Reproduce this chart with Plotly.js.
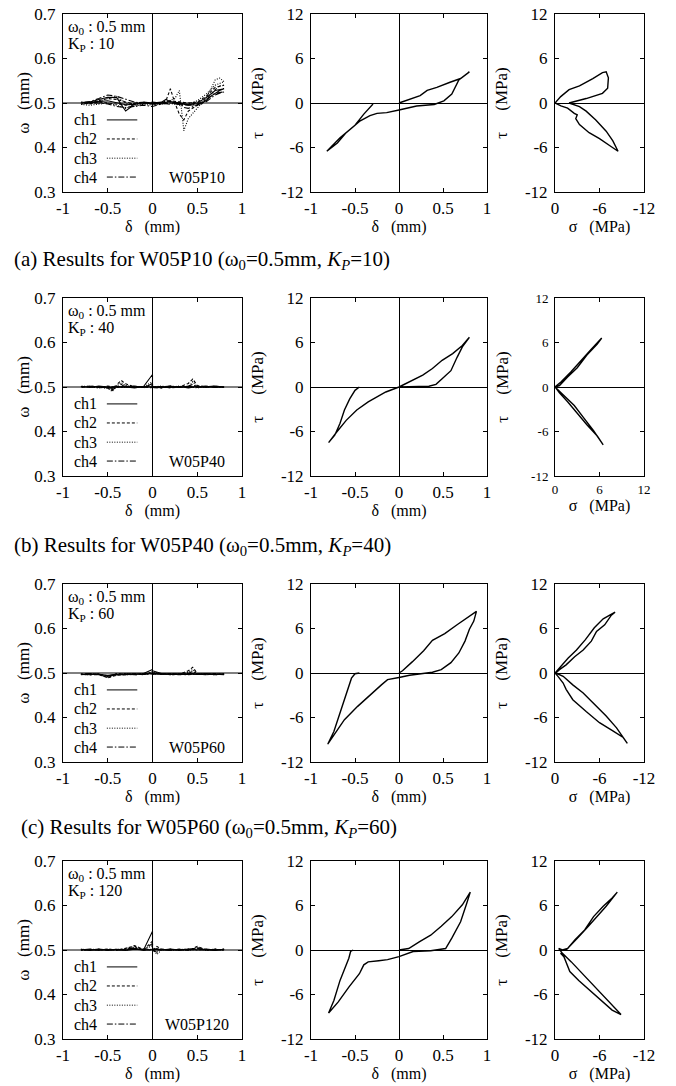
<!DOCTYPE html>
<html><head><meta charset="utf-8">
<script src="https://cdn.plot.ly/plotly-3.0.1.min.js"></script>
<style>html,body{margin:0;padding:0;background:#fff}</style>
</head><body><div id="chart" style="width:676px;height:1086px"></div>
<script>
// ---------- labels ----------
const specimens = ['W05P10','W05P40','W05P60','W05P120'];
const kpValues = [10,40,60,120];
const captionLetters = ['(a)','(b)','(c)'];
const channelNames = ['ch1','ch2','ch3','ch4'];
const deltaTicks = [-1,-0.5,0,0.5,1];
const deltaTickText = ['-1','-0.5','0','0.5','1'];
const omegaTicks = [0.3,0.4,0.5,0.6,0.7];
const omegaTickText = ['0.3','0.4','0.5','0.6','0.7'];
const tauTicks = [-12,-6,0,6,12];
const tauTickText = ['-12','-6','0','6','12'];
const sigmaTicksNeg = [0,-6,-12];
const sigmaTickTextNeg = ['0','-6','-12'];
const sigmaTicksPos = [0,6,12];
const sigmaTickTextPos = ['0','6','12'];

// ---------- row 1 : W05P10 ----------
const delta1 = [0,0.1,0.15,0.2,0.25,0.3,0.35,0.4,0.5,0.55,0.6,0.65,0.7,0.75,0.8,
  0.7,0.6,0.5,0.4,0.3,0.2,0.1,0,-0.1,-0.2,-0.3,-0.4,-0.5,-0.6,-0.7,-0.8,
  -0.7,-0.6,-0.5,-0.4,-0.3,-0.2,-0.1,0];
const omega1ch1 = [0.500,0.502,0.508,0.503,0.500,0.497,0.498,0.495,0.496,0.500,0.505,0.515,0.522,0.528,0.532,
  0.528,0.512,0.500,0.497,0.500,0.503,0.500,0.498,0.500,0.497,0.496,0.500,0.505,0.503,0.500,0.500,
  0.502,0.508,0.513,0.512,0.482,0.497,0.502,0.500];
const omega1ch2 = [0.498,0.500,0.505,0.532,0.500,0.475,0.462,0.482,0.495,0.498,0.508,0.520,0.530,0.538,0.540,
  0.535,0.515,0.502,0.500,0.503,0.505,0.498,0.497,0.502,0.500,0.495,0.498,0.500,0.502,0.498,0.500,
  0.500,0.505,0.510,0.508,0.502,0.498,0.500,0.498];
const omega1ch3 = [0.500,0.498,0.502,0.506,0.510,0.528,0.438,0.465,0.490,0.500,0.512,0.530,0.552,0.556,0.548,
  0.540,0.520,0.505,0.498,0.495,0.500,0.497,0.495,0.497,0.495,0.488,0.495,0.500,0.498,0.495,0.497,
  0.500,0.504,0.510,0.515,0.500,0.492,0.498,0.500];
const omega1ch4 = [0.502,0.500,0.498,0.497,0.500,0.502,0.490,0.488,0.495,0.500,0.503,0.510,0.518,0.522,0.525,
  0.522,0.508,0.498,0.495,0.497,0.500,0.498,0.492,0.495,0.493,0.490,0.492,0.498,0.500,0.500,0.502,
  0.503,0.510,0.518,0.515,0.508,0.502,0.500,0.502];
const loopDelta1 = [0,0.13,0.24,0.32,0.43,0.58,0.70,0.80,
  0.68,0.60,0.51,0.40,0.20,0,-0.14,-0.25,-0.33,-0.44,-0.55,-0.67,-0.82,
  -0.70,-0.60,-0.50,-0.40,-0.35,-0.30,-0.30];
const loopTau1 = [0,0.5,1.0,1.7,2.1,2.8,3.3,4.2,
  3.1,1.2,0.3,-0.2,-0.4,-0.95,-1.3,-1.4,-1.7,-2.4,-3.5,-4.7,-6.5,
  -5.4,-4.0,-3.0,-1.5,-0.8,-0.2,0];
const sigma1 = [0,-0.77,-1.9,-3.3,-5.1,-6.4,-6.9,-7.2,-7.1,-6.4,-4.2,-2.8,-1.9,
  -3.3,-4.2,-5.5,-6.9,-7.8,-8.5,
  -7.6,-6.0,-4.6,-3.3,-2.8,-3.0,-2.6,-1.7,-0.8,0];
const sigTau1 = [0,0.86,1.8,2.3,3.3,4.1,4.2,3.4,2.0,1.3,0.6,0.2,0,
  -0.5,-1.1,-2.3,-3.8,-5.1,-6.5,
  -5.9,-4.8,-4.0,-2.9,-2.1,-1.6,-1.4,-0.7,-0.4,0];

// ---------- row 2 : W05P40 ----------
const delta2 = [0,0.1,0.2,0.3,0.4,0.45,0.5,0.6,0.7,0.8,
  0.7,0.6,0.5,0.4,0.3,0.2,0.1,0,-0.1,-0.2,-0.3,-0.35,-0.4,-0.45,-0.5,-0.6,-0.7,-0.8,
  -0.7,-0.6,-0.5,-0.4,-0.3,-0.2,-0.1,0,0];
const omega2ch1 = [0.501,0.499,0.502,0.499,0.501,0.500,0.502,0.499,0.501,0.500,
  0.502,0.499,0.501,0.498,0.501,0.499,0.501,0.500,0.501,0.498,0.500,0.499,0.501,0.497,0.500,0.502,0.499,0.501,
  0.499,0.501,0.498,0.500,0.502,0.499,0.501,0.528,0.500];
const omega2ch2 = [0.499,0.501,0.498,0.500,0.508,0.518,0.503,0.501,0.499,0.501,
  0.499,0.502,0.500,0.502,0.499,0.501,0.498,0.499,0.501,0.500,0.507,0.515,0.505,0.492,0.498,0.500,0.502,0.499,
  0.501,0.499,0.502,0.499,0.501,0.500,0.499,0.505,0.500];
const omega2ch3 = [0.500,0.502,0.499,0.501,0.499,0.512,0.500,0.502,0.500,0.499,
  0.501,0.500,0.498,0.500,0.502,0.500,0.499,0.501,0.499,0.501,0.503,0.510,0.502,0.490,0.497,0.499,0.500,0.502,
  0.500,0.498,0.500,0.502,0.499,0.501,0.500,0.512,0.500];
const omega2ch4 = [0.500,0.498,0.501,0.500,0.502,0.506,0.499,0.500,0.502,0.499,
  0.500,0.501,0.499,0.501,0.500,0.502,0.500,0.498,0.500,0.502,0.499,0.506,0.499,0.494,0.501,0.498,0.501,0.500,
  0.502,0.500,0.499,0.501,0.500,0.502,0.498,0.508,0.500];
const loopDelta2 = [0,0.12,0.27,0.38,0.49,0.61,0.72,0.80,
  0.72,0.66,0.59,0.49,0.42,0.34,0.15,0,-0.15,-0.26,-0.35,-0.48,-0.60,-0.71,-0.80,
  -0.73,-0.67,-0.62,-0.56,-0.50,-0.45];
const loopTau2 = [0,0.67,1.6,2.5,3.6,4.5,5.6,6.7,
  5.4,4.0,2.2,1.1,0.36,0.1,0,0,-0.67,-1.35,-2.0,-3.1,-4.5,-6.1,-7.5,
  -6.5,-4.9,-3.1,-1.6,-0.45,0];
const sigma2 = [0,0.8,2.1,3.5,4.8,6.3,5.7,4.3,3.0,1.7,0.6,0,
  1.2,2.6,3.9,5.2,6.5,5.7,4.3,3.0,1.7,0.6,0.1];
const sigTau2 = [0,0.67,2.0,3.6,5.0,6.6,5.8,4.3,2.6,1.35,0.2,0,
  -1.2,-2.5,-4.2,-5.9,-7.8,-6.6,-5.1,-3.5,-2.0,-0.8,-0.1];

// ---------- row 3 : W05P60 ----------
const delta3 = [0,0.1,0.2,0.3,0.4,0.45,0.5,0.6,0.7,0.8,
  0.7,0.6,0.5,0.4,0.3,0.2,0.1,0,-0.1,-0.2,-0.3,-0.4,-0.5,-0.6,-0.7,-0.8,
  -0.7,-0.6,-0.5,-0.4,-0.3,-0.2,-0.1,0];
const omega3ch1 = [0.505,0.499,0.497,0.498,0.497,0.499,0.497,0.498,0.496,0.498,
  0.497,0.499,0.497,0.498,0.496,0.498,0.497,0.499,0.497,0.498,0.496,0.497,0.495,0.497,0.498,0.496,
  0.498,0.497,0.494,0.496,0.498,0.497,0.499,0.508];
const omega3ch2 = [0.500,0.498,0.499,0.497,0.505,0.513,0.499,0.497,0.498,0.497,
  0.499,0.497,0.498,0.496,0.498,0.499,0.497,0.501,0.498,0.496,0.497,0.499,0.490,0.496,0.497,0.498,
  0.496,0.497,0.489,0.495,0.497,0.498,0.497,0.500];
const omega3ch3 = [0.498,0.497,0.499,0.496,0.502,0.508,0.497,0.499,0.497,0.498,
  0.496,0.498,0.499,0.497,0.499,0.497,0.498,0.503,0.496,0.498,0.499,0.496,0.492,0.498,0.496,0.497,
  0.498,0.496,0.491,0.497,0.496,0.498,0.498,0.499];
const omega3ch4 = [0.497,0.499,0.496,0.498,0.499,0.504,0.498,0.496,0.498,0.496,
  0.498,0.496,0.497,0.499,0.497,0.496,0.499,0.498,0.499,0.497,0.496,0.498,0.493,0.497,0.499,0.497,
  0.496,0.498,0.493,0.496,0.499,0.496,0.497,0.498];
const loopDelta3 = [0,0.04,0.15,0.28,0.38,0.52,0.66,0.80,0.88,
  0.85,0.80,0.75,0.68,0.59,0.48,0.38,0.25,0.12,0,-0.13,-0.20,-0.32,-0.47,-0.62,-0.74,-0.81,
  -0.74,-0.69,-0.64,-0.59,-0.54,-0.50,-0.45];
const loopTau3 = [0,0.3,1.5,3.0,4.4,5.3,6.5,7.6,8.3,
  7.0,5.9,4.3,2.7,1.4,0.45,0.1,-0.1,-0.3,-0.6,-0.9,-1.6,-2.9,-4.5,-6.3,-8.4,-9.6,
  -7.9,-6.1,-4.3,-2.5,-0.7,-0.1,0];
const sigma3 = [0,-0.6,-1.75,-2.9,-4.1,-5.3,-6.5,-8.1,
  -7.6,-6.7,-5.6,-4.9,-4.4,-3.8,-2.65,-1.5,-0.6,-0.1,
  -1.1,-2.4,-3.8,-5.6,-6.9,-8.3,-9.75,
  -9.2,-7.8,-6.0,-4.2,-2.4,-1.5,-1.1,-0.4,0];
const sigTau3 = [0,0.7,2.0,3.1,4.5,6.1,7.3,8.2,
  7.8,6.5,5.6,4.3,3.8,3.1,2.2,1.1,0.45,0,
  -0.45,-1.6,-2.7,-4.5,-5.8,-7.4,-9.5,
  -8.7,-7.8,-6.7,-5.2,-3.6,-2.2,-1.35,-0.45,0];

// ---------- row 4 : W05P120 ----------
const delta4 = [0,0.05,0.1,0.2,0.3,0.4,0.5,0.6,0.7,0.8,
  0.7,0.6,0.5,0.4,0.3,0.2,0.1,0,-0.1,-0.2,-0.3,-0.4,-0.5,-0.6,-0.7,-0.8,
  -0.7,-0.6,-0.5,-0.4,-0.3,-0.2,-0.1,0,0];
const omega4ch1 = [0.501,0.503,0.500,0.502,0.500,0.502,0.500,0.501,0.499,0.501,
  0.500,0.502,0.500,0.501,0.499,0.502,0.500,0.501,0.500,0.502,0.499,0.501,0.500,0.502,0.499,0.501,
  0.500,0.502,0.499,0.501,0.500,0.502,0.500,0.542,0.501];
const omega4ch2 = [0.500,0.508,0.502,0.500,0.502,0.499,0.508,0.500,0.502,0.500,
  0.501,0.499,0.505,0.500,0.502,0.500,0.501,0.499,0.501,0.510,0.503,0.500,0.502,0.500,0.501,0.499,
  0.501,0.500,0.502,0.500,0.504,0.508,0.500,0.520,0.500];
const omega4ch3 = [0.502,0.490,0.500,0.501,0.499,0.501,0.505,0.499,0.501,0.499,
  0.502,0.500,0.502,0.499,0.501,0.500,0.502,0.500,0.502,0.505,0.500,0.502,0.499,0.501,0.500,0.502,
  0.499,0.501,0.500,0.502,0.499,0.503,0.501,0.510,0.501];
const omega4ch4 = [0.499,0.495,0.501,0.499,0.501,0.500,0.503,0.501,0.500,0.502,
  0.499,0.501,0.500,0.502,0.500,0.499,0.500,0.502,0.499,0.504,0.501,0.499,0.501,0.500,0.502,0.500,
  0.502,0.499,0.501,0.499,0.502,0.505,0.499,0.515,0.500];
const loopDelta4 = [0,0.11,0.23,0.36,0.48,0.60,0.72,0.81,
  0.77,0.70,0.60,0.53,0.36,0.16,0,-0.13,-0.23,-0.35,-0.40,-0.45,-0.57,-0.69,-0.80,
  -0.74,-0.67,-0.62,-0.57,-0.55,-0.52];
const loopTau4 = [0,0.2,1.1,2.0,3.2,4.5,6.1,7.8,
  6.3,3.8,1.6,0.2,-0.1,-0.2,-0.9,-1.3,-1.45,-1.6,-2.0,-3.2,-5.0,-7.0,-8.5,
  -6.8,-4.1,-2.7,-1.1,-0.2,0];
const sigma4 = [-1.5,-2.2,-3.2,-4.5,-5.7,-6.9,-8.4,
  -7.7,-6.5,-5.2,-4.0,-2.7,-1.7,-1.0,-0.5,-1.0,
  -2.2,-3.7,-5.2,-6.7,-8.2,-8.9,
  -7.7,-6.2,-4.7,-3.2,-2.0,-1.5,-1.2,-0.75,-1.0];
const sigTau4 = [0,0.7,1.8,3.2,4.5,5.9,7.8,
  7.0,5.9,4.5,2.7,1.4,0.2,0,0.2,-0.45,
  -1.6,-3.2,-4.75,-6.3,-7.9,-8.7,
  -8.1,-6.8,-5.4,-4.1,-2.9,-1.8,-0.9,-0.45,-0.45];

// ---------- assemble ----------
const rows = [
  {delta: delta1, omega: [omega1ch1,omega1ch2,omega1ch3,omega1ch4], ld: loopDelta1, lt: loopTau1, sg: sigma1, st: sigTau1, sigPos:false},
  {delta: delta2, omega: [omega2ch1,omega2ch2,omega2ch3,omega2ch4], ld: loopDelta2, lt: loopTau2, sg: sigma2, st: sigTau2, sigPos:true},
  {delta: delta3, omega: [omega3ch1,omega3ch2,omega3ch3,omega3ch4], ld: loopDelta3, lt: loopTau3, sg: sigma3, st: sigTau3, sigPos:false},
  {delta: delta4, omega: [omega4ch1,omega4ch2,omega4ch3,omega4ch4], ld: loopDelta4, lt: loopTau4, sg: sigma4, st: sigTau4, sigPos:false}
];

const W = 676, H = 1086;
const rowTops = [14, 298, 584, 861];
const rowH = 178;
const colX = [[63,242],[311,487],[555,644]];
const captionY = [260, 546, 828];
const captionX = [12, 12, 19];
const dashes = ['solid','3px,2px','1px,1.5px','6px,2px,1.5px,2px'];
const FONT = 'Liberation Serif, Times New Roman, serif';
const NB = '\u00a0';
const TICK = 17, TITLE = 16, NOTE = 16, CAP = 21;

const traces = [];
const layout = {
  width: W, height: H, margin: {l:0,r:0,t:0,b:0},
  paper_bgcolor: '#fff', plot_bgcolor: '#fff',
  showlegend: false, font: {family: FONT, color: '#000', size: TICK},
  shapes: [], annotations: []
};

function axName(k){ return k === 1 ? '' : String(k); }

function baseAxis(domain, range, tv, tt, zl, tsize){
  return {
    domain: domain, range: range, tickmode: 'array', tickvals: tv, ticktext: tt,
    ticks: 'inside', ticklen: 4, tickwidth: 1, tickcolor: '#000',
    showline: true, linecolor: '#000', linewidth: 1, mirror: 'ticks',
    showgrid: false, zeroline: zl, zerolinecolor: '#000', zerolinewidth: 1,
    tickfont: {family: FONT, size: tsize, color: '#000'},
    fixedrange: true
  };
}

rows.forEach((row, r) => {
  const yDom = [1 - (rowTops[r] + rowH) / H, 1 - rowTops[r] / H];
  for (let c = 0; c < 3; c++) {
    const k = 3*r + c + 1;
    const xs = 'x' + axName(k), ys = 'y' + axName(k);
    const xDom = [colX[c][0] / W, colX[c][1] / W];
    let xa, ya;
    if (c === 0) {
      xa = baseAxis(xDom, [-1,1], deltaTicks, deltaTickText, true, TICK);
      ya = baseAxis(yDom, [0.3,0.7], omegaTicks, omegaTickText, false, TICK);
      xa.title = {text: 'δ' + NB+NB+NB + '(mm)', font: {family: FONT, size: TITLE}, standoff: 0};
      ya.title = {text: 'ω' + NB+NB+NB + '(mm)', font: {family: FONT, size: 17}, standoff: 0};
      row.omega.forEach((w, ci) => {
        traces.push({x: row.delta, y: w, xaxis: xs, yaxis: ys, type: 'scatter', mode: 'lines',
          name: channelNames[ci], line: {color: '#000', width: 1.1, dash: dashes[ci]}, hoverinfo: 'skip'});
      });
      layout.shapes.push({type:'line', xref: xs + ' domain', yref: ys, x0:0, x1:1, y0:0.5, y1:0.5,
        line:{color:'#000', width:1}, layer:'below'});
      const legY = [0.405, 0.298, 0.19, 0.084];
      channelNames.forEach((nm, ci) => {
        layout.annotations.push({xref: xs + ' domain', yref: ys + ' domain', x: 0.05, y: legY[ci],
          xanchor: 'left', yanchor: 'middle', text: nm, showarrow: false, font: {family: FONT, size: NOTE, color:'#000'}});
        layout.shapes.push({type:'line', xref: xs + ' domain', yref: ys + ' domain', x0: 0.245, x1: 0.415,
          y0: legY[ci], y1: legY[ci], line: {color:'#000', width:1, dash: dashes[ci]}});
      });
      layout.annotations.push({xref: xs + ' domain', yref: ys + ' domain', x: 0.015, y: 0.922,
        xanchor:'left', yanchor:'middle', text: 'ω<sub>0</sub>' + NB + ': 0.5 mm', showarrow:false,
        font:{family: FONT, size: NOTE, color:'#000'}});
      layout.annotations.push({xref: xs + ' domain', yref: ys + ' domain', x: 0.015, y: 0.83,
        xanchor:'left', yanchor:'middle', text: 'K<sub>P</sub>' + NB + ': ' + kpValues[r], showarrow:false,
        font:{family: FONT, size: NOTE, color:'#000'}});
      layout.annotations.push({xref: xs + ' domain', yref: ys + ' domain', x: 0.75, y: 0.084,
        xanchor:'center', yanchor:'middle', text: specimens[r], showarrow:false,
        font:{family: FONT, size: NOTE, color:'#000'}});
    } else if (c === 1) {
      xa = baseAxis(xDom, [-1,1], deltaTicks, deltaTickText, true, TICK);
      ya = baseAxis(yDom, [-12,12], tauTicks, tauTickText, true, TICK);
      xa.title = {text: 'δ' + NB+NB+NB + '(mm)', font: {family: FONT, size: TITLE}, standoff: 0};
      ya.title = {text: 'τ' + NB+NB+NB+NB+NB + '(MPa)', font: {family: FONT, size: 17}, standoff: 12};
      traces.push({x: row.ld, y: row.lt, xaxis: xs, yaxis: ys, type:'scatter', mode:'lines',
        line:{color:'#000', width:1.4}, hoverinfo:'skip'});
    } else {
      const ts = row.sigPos ? 13 : TICK;
      xa = baseAxis(xDom, row.sigPos ? [0,12] : [0,-12],
        row.sigPos ? sigmaTicksPos : sigmaTicksNeg, row.sigPos ? sigmaTickTextPos : sigmaTickTextNeg, false, ts);
      ya = baseAxis(yDom, [-12,12], tauTicks, tauTickText, true, ts);
      xa.title = {text: 'σ' + NB+NB+NB + '(MPa)', font: {family: FONT, size: TITLE}, standoff: 0};
      ya.title = {text: 'τ' + NB+NB+NB+NB+NB + '(MPa)', font: {family: FONT, size: 17}, standoff: row.sigPos ? 18 : 12};
      traces.push({x: row.sg, y: row.st, xaxis: xs, yaxis: ys, type:'scatter', mode:'lines',
        line:{color:'#000', width:1.4}, hoverinfo:'skip'});
    }
    xa.anchor = ys; ya.anchor = xs;
    xa.ticklabelstandoff = 1; ya.ticklabelstandoff = 3;
    layout['xaxis' + axName(k)] = xa;
    layout['yaxis' + axName(k)] = ya;
  }
});

captionLetters.forEach((lt, i) => {
  layout.annotations.push({xref:'paper', yref:'paper', x: captionX[i] / W, y: 1 - captionY[i] / H,
    xanchor:'left', yanchor:'middle', showarrow:false,
    text: lt + ' Results for ' + specimens[i] + ' (ω<sub>0</sub>=0.5mm, <i>K<sub>P</sub></i>=' + kpValues[i] + ')',
    font:{family: FONT, size: CAP, color:'#000'}});
});

Plotly.newPlot('chart', traces, layout, {staticPlot: true, displayModeBar: false});
</script>
</body></html>
